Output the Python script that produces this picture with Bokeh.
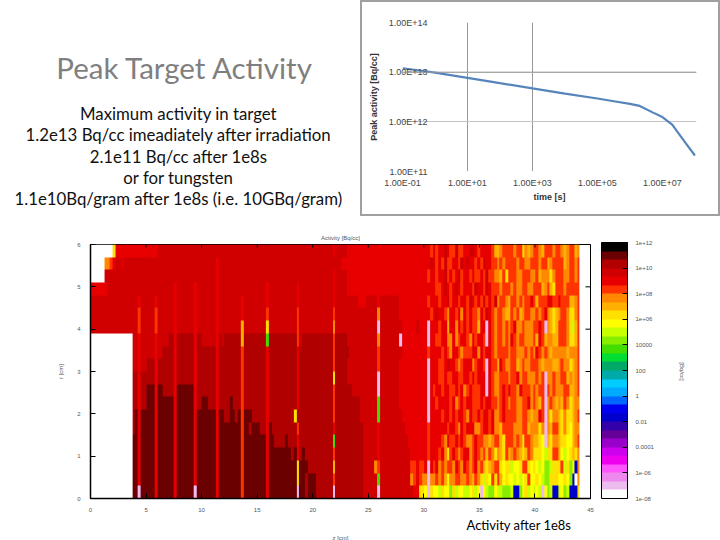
from bokeh.core.properties import value
from bokeh.embed import file_html
from bokeh.layouts import column, row
from bokeh.models import ColorBar, FixedTicker, LogColorMapper, Span, Title
from bokeh.plotting import figure
from bokeh.resources import INLINE
import numpy as np

title_text = "Peak Target Activity"
body_lines = [
    "Maximum activity in target",
    "1.2e13 Bq/cc imeadiately after irradiation",
    "2.1e11 Bq/cc after 1e8s",
    "or for tungsten",
    "1.1e10Bq/gram after 1e8s (i.e. 10GBq/gram)",
]

# peak activity curve
time_s = [0.1, 1, 10, 100, 1e3, 1e4, 1e5, 3.2e5, 1e6, 2e6, 5e6, 1e7, 2e7, 5e7, 1e8]
activity = [1.2e13, 9.8e12, 7.7e12, 6.0e12, 4.7e12, 3.7e12, 2.95e12, 2.6e12, 2.3e12, 2.09e12, 1.55e12, 1.25e12,
            8.8e11, 3.85e11, 2.1e11]
inset_xticks = [0.1, 10, 1000, 1e5, 1e7]
inset_xlabels = ["1.00E-01", "1.00E+01", "1.00E+03", "1.00E+05", "1.00E+07"]
inset_yticks = [1e11, 1e12, 1e13, 1e14]
inset_ylabels = ["1.00E+11", "1.00E+12", "1.00E+13", "1.00E+14"]

# map axis ticks
z_ticks = [0, 5, 10, 15, 20, 25, 30, 35, 40, 45]
r_ticks = [0, 1, 2, 3, 4, 5, 6]

# colour scale, top band first
bands = ["#000000", "#6b0000", "#b00000", "#d00000", "#e80000", "#ff3300", "#ff8800", "#ffb000", "#ffe000", "#ffff00",
         "#c8ff00", "#88ee00", "#44dd00", "#00dd33", "#00aa66", "#00aaaa", "#00ccff", "#00aaff", "#0066ff", "#0000ee",
         "#0000cc", "#3300aa", "#660099", "#9900cc", "#cc00ee", "#ee00ee", "#ff55ff", "#ee88ee", "#eebbee", "#ffffff"]
band_codes = "0123456789abcdefghijklmnopqrs."
bar_ticks = [1e-8, 1e-6, 1e-4, 1e-2, 1, 100, 1e4, 1e6, 1e8, 1e10, 1e12]
bar_labels = ["1e-08", "1e-06", "0.0001", "0.01", "1", "100", "10000", "1e+06", "1e+08", "1e+10", "1e+12"]

# one band code per 0.25 cm cell, each line is a 0.3 cm row, top row first
heat_rows = [
    "........84 4444444444 4444333333 3333333333 3333333333 3333333333 3333333333 3333333333 3333333433 3344444444 4444444444 4444444444 4454544345 5355443345 4444577655 5565586765 5675556556 765576",
    ".....66543 3433333333 3333333333 3333333333 3333343333 3333333333 3333333333 3333333333 3333333333 4444444444 4444444444 4444444444 4434545355 4453434454 5344556565 5556556655 5655765555 765565",
    ".....33333 3333333333 3333333333 3333333333 3333343333 3333333333 3333333333 3333333333 3333333433 3344444444 4444444444 4444444444 4544544354 5435445455 4535566758 5556655566 5766686555 665565",
    "4444443333 3333333333 3333333333 4333333433 3333343333 3333333333 3334333333 3333433333 3333333433 3344444444 4444444444 4444444444 4444554345 4345444534 4534555655 5656655665 5576578555 655555",
    "3333333333 3333333433 3334333333 4333333433 3333343333 3333433333 3334333333 3333433333 3333333433 3333334443 3334333333 3444444444 4544454435 4454453454 5354536556 7556565545 7555445545 557765",
    "3333333333 3333333533 3335333333 4333333433 3333343333 3333433333 3335333333 3333533333 3333333533 3333333333 3336333333 3444444444 4454344564 4546454556 4534565567 7565765566 5654678765 568865",
    "3333333333 3333333533 3335333333 4333333433 3333343333 3333733333 3338333333 3333533333 3333333633 3333333333 333s333333 3344444344 4s44454474 4645454557 44s4565565 6546656665 545s678755 568a75",
    ".......... .....33433 3334333322 4222222422 3333342322 2222722222 222c222222 2222532222 2222222522 2233333333 3336333333 3s44444444 4s44554466 4654456454 45s4565565 6456556665 7457667755 568875",
    ".......... .....33433 3334332222 4222222422 2222242222 2222522222 2224222222 2222422222 2222222522 2223333333 3335333333 3344444444 4544445456 4456555446 4544565555 6556665656 4565676666 676665",
    ".......... .....33433 2224222222 4222222422 2222242222 2222522222 2224222222 2222422222 2222222522 2233333333 3335333333 3444444444 4s44455434 4565444654 45s4557456 6557656655 5676667765 668765",
    ".......... .....22422 2224222222 4222222422 2222242222 2222522222 2224222222 2222422222 2222222822 2233333333 333s333333 3444444444 4s44455455 4455445454 44s4566555 6554655666 565s665665 576765",
    ".......... .....22422 1114112222 4111111422 2222242222 2222522222 2224222222 2222422222 2222222522 2222333333 333s333333 3444444444 4s45445445 5454654555 44s4566545 4556455565 655s565666 557765",
    ".......... .....22422 1114111111 4111111422 1122242222 1222522222 2224222222 2222422222 2222222522 2222222333 333c333333 3444444444 4s44544445 4654544555 4544556545 6556655465 675s656767 568766",
    ".......... .....21411 1114111111 4111111411 1111141122 1121511122 2224222222 2228222222 2222222522 2222222333 333c333333 3344444444 4s44445445 4544564554 5445466545 5556655676 645s686678 688765",
    ".......... .....21411 1114111111 4111111411 1111141111 1111511211 1224122222 2222522222 2222222422 2222222233 3334333333 3334444444 4544444454 4564544466 5445466755 5566655766 686s675578 689766",
    ".......... .....11411 1114111111 4111111411 1111141111 1111511111 1114112222 1222422222 2222222c22 2222222233 3334333333 3333444444 4544445645 5454566545 5667655785 5565685567 789s786678 899765",
    ".......... .....11411 1114111111 4111111411 1111141111 1111511111 1114111111 1121421222 2222222522 2222222233 3334333333 3333344444 4544454685 4565446545 6575686785 7656787568 889a885579 a98786",
    ".......... .....11411 1114111111 4111111411 1111141111 1111511111 1114111111 1111811122 2222222722 2222222233 3365333333 3333355455 4s45465655 6456456546 5787655898 8a99855898 9a9bba8885 a8b9k6",
    ".......... .....11411 1114111111 4111111411 1111141111 1111511111 1114111111 1111811211 1222222522 2222222233 333c333333 3333365456 6s66565796 6556656756 8a89585798 99a9a98599 89abb88899 89bk.6",
    ".......... .....11s11 1114111111 4111111s11 1111141111 1111511111 1114111111 1111s11211 1222222s22 2222222233 333s333333 3333334488 9s899a899b 8a99aa98a9 s9abb9aabb bakkb98a9a 9as9bakka9 bakkk8",
]

# text panel, ranges are page pixels
head = figure(width=360, height=216, x_range=(0, 360), y_range=(216, 0), output_backend="svg",
              toolbar_location=None, min_border=0, outline_line_color=None,
              x_axis_location=None, y_axis_location=None)
head.grid.visible = False
head.text([184.5], [67], text=[title_text], text_font=value("Lato"), text_font_size="29.5px", text_color="#7f7f7f",
          text_align="center", text_baseline="middle")
head.text([178, 178, 178, 178, 178], [113, 134, 156, 177, 198], text=body_lines, text_font=value("Lato"),
          text_font_size="16.8px", text_color="#111111", text_align="center", text_baseline="middle")

# peak activity inset
inset = figure(width=360, height=216, x_axis_type="log", y_axis_type="log", x_range=(0.1, 1.12e8), y_range=(1e11, 1e14),
               output_backend="svg", toolbar_location=None, min_border_left=40, min_border_right=26,
               min_border_top=20, min_border_bottom=47, outline_line_color=None,
               x_axis_label="time [s]", y_axis_label="Peak activity [Bq/cc]",
               styles={"border": "2px solid #a0a0a0", "box-sizing": "border-box"})
inset.line(time_s, activity, line_color="#5585bb", line_width=2.2)
inset.xaxis.ticker = FixedTicker(ticks=inset_xticks, minor_ticks=[])
inset.yaxis.ticker = FixedTicker(ticks=inset_yticks, minor_ticks=[])
inset.xaxis.major_label_overrides = dict(zip(inset_xticks, inset_xlabels))
inset.yaxis.major_label_overrides = dict(zip(inset_yticks, inset_ylabels))
inset.xgrid.ticker = FixedTicker(ticks=inset_xticks[:3])
inset.ygrid.ticker = FixedTicker(ticks=inset_yticks)
inset.xgrid.grid_line_color = "#999999"
inset.ygrid.grid_line_color = "#c4c4c4"
inset.add_layout(Span(location=1e13, dimension="width", line_color="#999999", line_width=1))
inset.axis.axis_line_color = None
inset.axis.major_tick_line_color = None
inset.axis.minor_tick_line_color = None
inset.axis.major_label_text_font = "Liberation Sans"
inset.axis.major_label_text_font_size = "9px"
inset.axis.major_label_text_color = "#444444"
inset.axis.axis_label_text_font = "Liberation Sans"
inset.axis.axis_label_text_font_size = "9px"
inset.axis.axis_label_text_font_style = "bold"
inset.axis.axis_label_text_color = "#333333"
inset.yaxis.major_label_standoff = -31
inset.yaxis.axis_label_standoff = 7
inset.xaxis.major_label_standoff = 0
inset.xaxis.axis_label_standoff = 1

# activity map
levels = [[band_codes.index(c) for c in r.replace(" ", "")] for r in heat_rows[::-1]]
cols = max(len(r) for r in levels)
levels = np.array([r + [29] * (cols - len(r)) for r in levels], dtype=float)
heat_values = np.power(10.0, 12 - (levels + 0.5) * 20 / 30)
mapper = LogColorMapper(palette=bands[::-1], low=1e-8, high=1e12)

heat = figure(width=720, height=324, x_range=(0, 45), y_range=(0, 6), output_backend="svg", toolbar_location=None,
              min_border_left=90, min_border_right=130, min_border_top=28, min_border_bottom=40,
              outline_line_color="#000000", y_axis_label="r [cm]", title="Activity [Bq/cc]")
heat.image(image=[heat_values], x=0, y=0, dw=cols * 0.25, dh=6, color_mapper=mapper)
heat.segment([45] * len(r_ticks), r_ticks, [44.55] * len(r_ticks), r_ticks, line_color="#000000")
heat.segment(z_ticks, [6] * len(z_ticks), z_ticks, [5.93] * len(z_ticks), line_color="#000000")
heat.grid.visible = False
heat.title.align = "center"
heat.title.standoff = 8
heat.title.text_font = "Liberation Sans"
heat.title.text_font_size = "6px"
heat.title.text_font_style = "normal"
heat.title.text_color = "#555555"
heat.axis.major_label_text_font = "Liberation Sans"
heat.axis.major_label_text_font_size = "6px"
heat.axis.major_label_text_color = "#555555"
heat.axis.axis_label_text_font = "Liberation Sans"
heat.axis.axis_label_text_font_size = "6px"
heat.axis.axis_label_text_font_style = "normal"
heat.axis.axis_label_text_color = "#555555"
heat.xaxis.ticker = FixedTicker(ticks=z_ticks, minor_ticks=[])
heat.yaxis.ticker = FixedTicker(ticks=r_ticks, minor_ticks=[])
heat.axis.major_tick_in = 5
heat.axis.major_tick_out = 0
heat.axis.axis_line_width = 1.5
heat.xaxis.major_label_standoff = 9
heat.yaxis.major_label_standoff = 10
heat.yaxis.axis_label_standoff = 10

bar = ColorBar(color_mapper=mapper, ticker=FixedTicker(ticks=bar_ticks), width=26, height=256, padding=0, margin=0,
               location=(11, 0), major_label_overrides=dict(zip(bar_ticks, bar_labels)),
               major_label_text_font="Liberation Sans", major_label_text_font_size="6px",
               major_label_text_color="#555555", major_tick_line_color="#000000", major_tick_in=5,
               minor_tick_line_color=None, bar_line_color="#000000", label_standoff=8)
heat.add_layout(bar, "right")

heat.add_layout(Title(text="[Bq/cc]", align="center", standoff=44, text_font="Liberation Sans",
                      text_font_size="6px", text_font_style="normal", text_color="#555555"), "right")
# the axis label would push this line off the page, so the two sit in their own strips
heat.add_layout(Title(text="Activity after 1e8s", align="left", offset=376, standoff=0, text_line_height=0.8,
                      text_font="Lato", text_font_size="13px", text_font_style="normal", text_color="#000000"), "below")
heat.add_layout(Title(text="z [cm]", align="center", standoff=0, text_font="Liberation Sans",
                      text_font_size="6px", text_font_style="normal", text_color="#555555"), "below")

p = column(row(column(head), inset), heat)
open("out.html", "w").write(file_html(p, INLINE))
